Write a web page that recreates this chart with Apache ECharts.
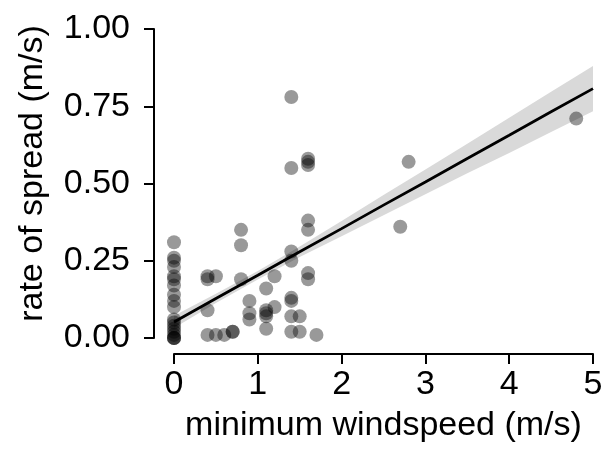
<!DOCTYPE html>
<html>
<head>
<meta charset="utf-8">
<script src="https://cdn.jsdelivr.net/npm/echarts@6/dist/echarts.min.js"></script>
<style>
  html, body { margin: 0; padding: 0; background: #fff; }
  #chart { width: 612px; height: 450px; }
</style>
</head>
<body>
<div id="chart"></div>
<script>
// observed fires: minimum windspeed (m/s) vs rate of spread (m/s)
var windspeed = [
  0, 0, 0, 0, 0, 0, 0, 0, 0, 0, 0, 0, 0, 0, 0, 0, 0, 0, 0,
  0.4, 0.4, 0.4, 0.4, 0.5, 0.5, 0.6, 0.7, 0.7,
  0.8, 0.8, 0.8, 0.9, 0.9, 0.9,
  1.1, 1.1, 1.1, 1.1, 1.1, 1.2, 1.2,
  1.4, 1.4, 1.4, 1.4, 1.4, 1.4, 1.4, 1.4, 1.5, 1.5,
  1.6, 1.6, 1.6, 1.6, 1.6, 1.6, 1.6, 1.7,
  2.7, 2.8, 4.8
];
var spread = [
  0.31, 0.26, 0.25, 0.23, 0.20, 0.19, 0.17, 0.14, 0.12, 0.10, 0.06, 0.05, 0.04, 0.03, 0.02, 0.01, 0.00, 0.00, 0.00,
  0.20, 0.19, 0.09, 0.01, 0.20, 0.01, 0.01, 0.02, 0.02,
  0.35, 0.30, 0.19, 0.12, 0.08, 0.06,
  0.16, 0.09, 0.08, 0.07, 0.03, 0.20, 0.10,
  0.78, 0.55, 0.28, 0.25, 0.13, 0.12, 0.07, 0.02, 0.07, 0.02,
  0.58, 0.57, 0.56, 0.38, 0.35, 0.21, 0.19, 0.01,
  0.36, 0.57, 0.71
];

// fitted line and confidence band
var fitX    = [0, 0.5, 1, 1.5, 2, 2.5, 3, 3.5, 4, 4.5, 5];
var fitY    = [0.052, 0.128, 0.203, 0.279, 0.354, 0.430, 0.505, 0.581, 0.656, 0.732, 0.807];
var bandLow = [0.032, 0.113, 0.189, 0.262, 0.329, 0.397, 0.465, 0.533, 0.599, 0.667, 0.734];
var bandHigh= [0.072, 0.143, 0.217, 0.296, 0.379, 0.463, 0.545, 0.629, 0.713, 0.797, 0.880];

var xTicks = [0, 1, 2, 3, 4, 5];
var yTicks = [0, 0.25, 0.5, 0.75, 1];

var FONT = 'Liberation Sans, Arial, sans-serif';

var points = windspeed.map(function (x, i) { return [x, spread[i]]; });
var fitLine = fitX.map(function (x, i) { return [x, fitY[i]]; });

var chart = echarts.init(document.getElementById('chart'), null, { renderer: 'canvas' });

var option = {
  backgroundColor: '#fff',
  animation: false,
  grid: { left: 174, right: 19, top: 29, bottom: 112, containLabel: false },
  xAxis: {
    type: 'value',
    min: xTicks[0], max: xTicks[xTicks.length - 1], interval: 1,
    offset: 16,
    name: 'minimum windspeed (m/s)',
    nameLocation: 'middle',
    nameGap: 55,
    nameTextStyle: { fontFamily: FONT, fontSize: 34, color: '#000' },
    axisLine: { onZero: false, lineStyle: { color: '#000', width: 2 } },
    axisTick: { show: true, inside: false, length: 10, lineStyle: { color: '#000', width: 2 } },
    axisLabel: { fontFamily: FONT, fontSize: 34, color: '#000', margin: 14 },
    splitLine: { show: false }
  },
  yAxis: {
    type: 'value',
    min: yTicks[0], max: yTicks[yTicks.length - 1], interval: 0.25,
    offset: 20,
    name: 'rate of spread (m/s)',
    nameLocation: 'middle',
    nameGap: 104,
    nameTextStyle: { fontFamily: FONT, fontSize: 34, color: '#000', padding: [0, 0, 0, 20] },
    axisLine: { show: true, onZero: false, lineStyle: { color: '#000', width: 2 } },
    axisTick: { show: true, inside: false, length: 10, lineStyle: { color: '#000', width: 2 } },
    axisLabel: {
      fontFamily: FONT, fontSize: 34, color: '#000', margin: 24,
      formatter: function (v) { return v.toFixed(2); }
    },
    splitLine: { show: false }
  },
  series: [
    {
      name: 'band',
      type: 'custom',
      z: 1,
      silent: true,
      data: [0],
      renderItem: function (params, api) {
        var pts = [];
        for (var i = 0; i < fitX.length; i++) pts.push(api.coord([fitX[i], bandHigh[i]]));
        for (var j = fitX.length - 1; j >= 0; j--) pts.push(api.coord([fitX[j], bandLow[j]]));
        return {
          type: 'polygon',
          shape: { points: pts },
          style: { fill: '#d9d9d9', stroke: null }
        };
      }
    },
    {
      name: 'fires',
      type: 'scatter',
      z: 2,
      symbol: 'circle',
      symbolSize: 14,
      data: points,
      itemStyle: { color: 'rgba(0,0,0,0.5)' }
    },
    {
      name: 'fit',
      type: 'line',
      z: 3,
      data: fitLine,
      showSymbol: false,
      lineStyle: { color: '#000', width: 2.8 }
    }
  ]
};

chart.setOption(option);
</script>
</body>
</html>
